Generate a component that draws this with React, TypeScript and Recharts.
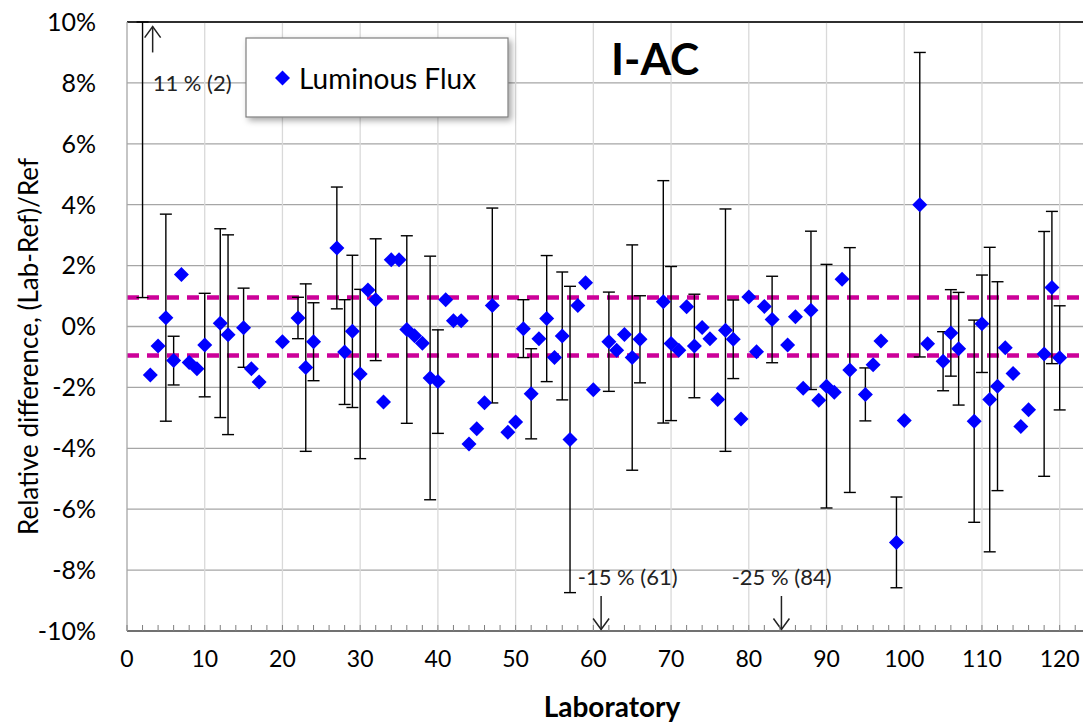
import React from "react";
import {
  ScatterChart,
  Scatter,
  XAxis,
  YAxis,
  CartesianGrid,
  ErrorBar,
  ReferenceLine,
  ReferenceDot,
} from "recharts";

// laboratory numbers and their relative difference (%) to the reference
const labs = [
  2, 3, 4, 5, 6, 7, 8, 9, 10, 12, 13, 15, 16, 17, 20, 22, 23, 24, 27, 28, 29, 30,
  31, 32, 33, 34, 35, 36, 37, 38, 39, 40, 41, 42, 43, 44, 45, 46, 47, 49, 50, 51,
  52, 53, 54, 55, 56, 57, 58, 59, 60, 61, 62, 63, 64, 65, 66, 69, 70, 71, 72, 73,
  74, 75, 76, 77, 78, 79, 80, 81, 82, 83, 84, 85, 86, 87, 88, 89, 90, 91, 92, 93,
  95, 96, 97, 99, 100, 102, 103, 105, 106, 107, 109, 110, 111, 112, 113, 114, 115,
  116, 118, 119, 120,
];

const values = [
  11, -1.59, -0.64, 0.29, -1.12, 1.71, -1.18, -1.39, -0.61, 0.11, -0.27, -0.04,
  -1.39, -1.82, -0.5, 0.28, -1.35, -0.5, 2.58, -0.84, -0.16, -1.56, 1.2, 0.88,
  -2.48, 2.19, 2.19, -0.1, -0.3, -0.55, -1.69, -1.81, 0.88, 0.19, 0.19, -3.86,
  -3.36, -2.5, 0.69, -3.47, -3.14, -0.07, -2.21, -0.4, 0.26, -1.02, -0.31, -3.71,
  0.69, 1.44, -2.08, -15, -0.5, -0.78, -0.26, -1.02, -0.42, 0.81, -0.56, -0.78,
  0.65, -0.64, -0.03, -0.4, -2.4, -0.12, -0.42, -3.04, 0.97, -0.83, 0.66, 0.23,
  -25, -0.61, 0.32, -2.03, 0.53, -2.42, -1.96, -2.16, 1.55, -1.43, -2.23, -1.26,
  -0.48, -7.09, -3.09, 4.0, -0.57, -1.14, -0.21, -0.73, -3.11, 0.09, -2.4, -1.96,
  -0.7, -1.54, -3.28, -2.73, -0.9, 1.28, -1.03,
];

// expanded uncertainty (%), null = no error bar; lab 2 is [below, above] and
// its upper part is cut at the top of the scale
const uncertainties: (number | number[] | null)[] = [
  [10.05, -1], null, null, 3.4, 0.8, null, null, null, 1.7, 3.1, 3.28, 1.3,
  null, null, null, 0.68, 2.75, 1.28, 2.0, 1.72, 2.5, 2.78, null, 2.0,
  null, null, null, 3.08, null, null, 4.0, 1.7, null, null, null, null,
  null, null, 3.2, null, null, 0.95, 1.48, null, 2.07, null, 2.1, 5.03,
  null, null, null, null, 1.63, null, null, 3.7, 1.43, 3.98, 2.53, null,
  null, 1.7, null, null, null, 3.98, 1.29, null, null, null, null, 1.42,
  null, null, null, null, 2.6, null, 4.0, null, null, 4.02, 0.87, null,
  null, 1.49, null, 5.0, null, 0.97, 1.42, 1.85, 3.32, 1.6, 5.0, 3.43,
  null, null, null, null, 4.02, 2.5, 1.71,
];

const yTicks = [-10, -8, -6, -4, -2, 0, 2, 4, 6, 8, 10];
const xTicks = Array.from({ length: 62 }, (_, i) => i * 2);
const gridLabs = [10, 20, 30, 40, 50, 60, 70, 80, 90, 100, 110, 120];
const limits = [0.95, -0.95];

// off-scale results
const arrowLabs = [3.3, 61, 84.2];
const arrowFrom = [9.0, -8.85, -8.85];
const arrowTo = [9.85, -9.95, -9.95];
const noteTexts = ["11 % (2)", "-15 % (61)", "-25 % (84)"];
const noteLabs = [3.3, 58.0, 77.8];
const noteValues = [8.0, -8.2, -8.2];

const data = labs.map((lab, i) => ({
  lab,
  value: values[i],
  err: uncertainties[i] ?? undefined,
}));

const FONT = "Lato";

const Diamond = (props: any) => {
  const { cx, cy } = props;
  if (cx == null || cy == null) return null;
  const h = 7.5;
  return (
    <path
      d={`M${cx},${cy - h}L${cx + h},${cy}L${cx},${cy + h}L${cx - h},${cy}Z`}
      fill="#0000FF"
    />
  );
};

const LabTick = (props: any) => {
  const { x, y, payload } = props;
  const v = payload.value;
  const axisY = y - 20;
  return (
    <g>
      <line x1={x} x2={x} y1={axisY} y2={axisY - 6} stroke="#7f7f7f" />
      {v % 10 === 0 && (
        <text
          x={x}
          y={y}
          dy="0.71em"
          textAnchor="middle"
          fontFamily={FONT}
          fontSize={23}
          fill="#000"
        >
          {v}
        </text>
      )}
    </g>
  );
};

const Arrow = (props: any) => {
  const { x1, y1, x2, y2 } = props;
  const dir = y2 > y1 ? 1 : -1;
  return (
    <g stroke="#222" strokeWidth={1.5} fill="none">
      <line x1={x1} y1={y1} x2={x2} y2={y2} />
      <path d={`M${x2 - 8},${y2 - dir * 11}L${x2},${y2}L${x2 + 8},${y2 - dir * 11}`} />
    </g>
  );
};

const YTitle = (props: any) => {
  const vb = props.viewBox || { x: 0, y: 22, width: 127, height: 609 };
  const x = vb.x + 28;
  const y = vb.y + vb.height / 2 + 20;
  return (
    <text
      x={x}
      y={y}
      transform={`rotate(-90, ${x}, ${y})`}
      textAnchor="middle"
      dominantBaseline="central"
      fontFamily={FONT}
      fontSize={26}
      fill="#000"
    >
      Relative difference, (Lab-Ref)/Ref
    </text>
  );
};

const XTitle = (props: any) => {
  const vb = props.viewBox || { x: 127, y: 631, width: 956, height: 93 };
  return (
    <text
      x={vb.x + vb.width / 2 + 7}
      y={vb.y + 86}
      textAnchor="middle"
      fontFamily={FONT}
      fontWeight="bold"
      fontSize={28}
      fill="#000"
    >
      Laboratory
    </text>
  );
};

export default function App() {
  return (
    <div
      style={{
        position: "absolute",
        left: 0,
        top: 0,
        width: 1083,
        height: 724,
        overflow: "hidden",
        background: "#fff",
        fontFamily: FONT,
      }}
    >
      <ScatterChart
        width={1083}
        height={724}
        margin={{ top: 22, right: 0, bottom: 0, left: 0 }}
      >
        <CartesianGrid vertical={false} stroke="#a6a6a6" strokeWidth={1.3} />
        {gridLabs.map((g) => (
          <ReferenceLine key={`g${g}`} x={g} stroke="#d9d9d9" strokeWidth={1.3} />
        ))}
        <ReferenceLine y={10} stroke="#000" strokeWidth={1.5} />
        <XAxis
          type="number"
          dataKey="lab"
          domain={[0, 123]}
          ticks={xTicks}
          interval={0}
          tickSize={0}
          tickMargin={20}
          tick={<LabTick />}
          axisLine={{ stroke: "#595959", strokeWidth: 1.5 }}
          height={93}
          label={XTitle}
        />
        <YAxis
          type="number"
          dataKey="value"
          domain={[-10, 10]}
          allowDataOverflow
          ticks={yTicks}
          interval={0}
          tickSize={0}
          tickMargin={31}
          tickFormatter={(v) => `${v}%`}
          tick={{ fill: "#000", fontSize: 25, fontFamily: FONT }}
          axisLine={{ stroke: "#a6a6a6", strokeWidth: 1.3 }}
          width={127}
          label={YTitle}
        />
        {limits.map((l) => (
          <ReferenceLine
            key={`l${l}`}
            y={l}
            stroke="#CC0099"
            strokeWidth={4.5}
            strokeDasharray="12 8"
          />
        ))}
        <Scatter
          name="Luminous Flux"
          data={data}
          shape={Diamond}
          isAnimationActive={false}
        >
          <ErrorBar
            dataKey="err"
            direction="y"
            width={6}
            stroke="#000"
            strokeWidth={1.4}
          />
        </Scatter>
        {arrowLabs.map((a, i) => (
          <ReferenceLine
            key={`a${i}`}
            segment={[
              { x: a, y: arrowFrom[i] },
              { x: a, y: arrowTo[i] },
            ]}
            shape={Arrow}
          />
        ))}
        {noteTexts.map((t, i) => (
          <ReferenceDot
            key={`n${i}`}
            x={noteLabs[i]}
            y={noteValues[i]}
            r={0}
            shape={(p: any) => (
              <text
                x={p.cx}
                y={p.cy}
                dominantBaseline="central"
                fontFamily={FONT}
                fontSize={22}
                fill="#222"
              >
                {t}
              </text>
            )}
          />
        ))}
      </ScatterChart>
      <svg
        width={1083}
        height={724}
        style={{ position: "absolute", left: 0, top: 0, pointerEvents: "none" }}
      >
        <defs>
          <filter id="legendShadow" x="-10%" y="-10%" width="130%" height="140%">
            <feDropShadow dx="3" dy="3" stdDeviation="3" floodColor="#000" floodOpacity="0.35" />
          </filter>
        </defs>
        <rect
          x={246}
          y={38}
          width={262}
          height={79}
          fill="#fff"
          stroke="#7f7f7f"
          strokeWidth={1.2}
          filter="url(#legendShadow)"
        />
        <path d="M282.5,70.5L290,78L282.5,85.5L275,78Z" fill="#0000FF" />
        <text x={299} y={78} dominantBaseline="central" fontFamily={FONT} fontSize={28} fill="#000">
          Luminous Flux
        </text>
        <text x={611} y={75} fontFamily={FONT} fontWeight="bold" fontSize={44} fill="#000">
          I-AC
        </text>
      </svg>
    </div>
  );
}
